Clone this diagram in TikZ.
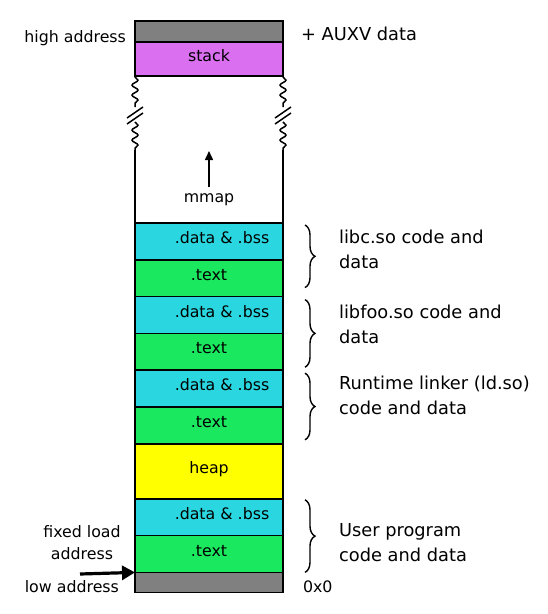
\documentclass[tikz,border=0pt]{standalone}
\usepackage{fontspec}
\setmainfont{DejaVu Sans}
\usetikzlibrary{arrows.meta,positioning,decorations.pathreplacing,decorations.pathmorphing}

\definecolor{segGray}{RGB}{128,128,128}
\definecolor{segStack}{RGB}{218,112,240}
\definecolor{segData}{RGB}{42,215,224}
\definecolor{segText}{RGB}{26,232,94}
\definecolor{segHeap}{RGB}{255,255,0}

\newcommand{\dlbl}{\hspace*{26pt}.data \& .bss}

\begin{document}
\begin{tikzpicture}[
    x = 1pt, y = -1pt, % pixel grid, y grows downwards
    node distance = 0pt, % segments touch
    line width = 1.5pt,
    font = \fontsize{15.8}{22}\selectfont
    ]

    \tikzset{seg/.style={
        draw = black,
        line width = 1.5pt,
        minimum width = 148pt,
        minimum height = 36.8pt,
        inner sep = 0pt,
        outer sep = 0pt,
        text height = 12pt,
        text depth = 8pt
        }}
    \tikzset{rlabel/.style={anchor=west, align=left, font=\fontsize{17.8}{25}\selectfont}}
    \tikzset{grp/.style={decorate, decoration={brace, amplitude=10pt}, line width=1.4pt}}
    \tikzset{wavy/.style={decorate, decoration={snake, amplitude=3pt, segment length=10pt}}}

    \useasboundingbox (0,0) rectangle (548,614);

    % top of the address space
    \node[seg, fill=segGray, minimum height=21pt] (auxv) at (209,31.5) {};
    \node[seg, fill=segStack, minimum height=34pt] (stack) [below=of auxv] {stack};

    % shared objects
    \node[seg, fill=segData] (libcdata) at (209,241.4) {\dlbl};
    \node[seg, fill=segText] (libctext) [below=of libcdata] {.text};
    \node[seg, fill=segData] (libfoodata) [below=of libctext] {\dlbl};
    \node[seg, fill=segText] (libfootext) [below=of libfoodata] {.text};
    \node[seg, fill=segData] (lddata) [below=of libfootext] {\dlbl};
    \node[seg, fill=segText] (ldtext) [below=of lddata] {.text};
    \node[seg, fill=segHeap, minimum height=55pt] (heap) [below=of ldtext] {heap};

    % user program
    \node[seg, fill=segData] (userdata) [below=of heap] {\dlbl};
    \node[seg, fill=segText] (usertext) [below=of userdata] {.text};
    \node[seg, fill=segGray, minimum height=19pt] (lowgray) [below=of usertext] {};

    % broken sides of the column
    \foreach \a/\b in {south west/north west, south east/north east} {
        \draw[wavy] ([shift={(0,1)}]stack.\a) -- ++(0,30);
        \draw ([shift={(-8,42)}]stack.\a) -- ++(16,-11);
        \draw ([shift={(-8,48)}]stack.\a) -- ++(16,-11);
        \draw[wavy] ([shift={(0,46)}]stack.\a) -- ++(0,28);
        \draw ([shift={(0,74)}]stack.\a) -- (libcdata.\b);
    }

    \node (mmap) at (209,200) {mmap};
    \coordinate (mmaptail) at (209,187);
    \coordinate (mmaptip) at (209,151);
    \draw[-{Triangle[length=9pt,width=8pt]}] (mmaptail) -- (mmaptip);

    % labels on the left
    \node[anchor=east] (high) at (130,38) {high address};
    \node[align=center] (fixed) at (82,543) {fixed load\\address};
    \node[anchor=east] (low) at (123,587) {low address};
    \coordinate (loadtail) at (80,574);
    \draw[line width=3.2pt, -{Triangle[length=13pt,width=14pt]}] (loadtail) -- (lowgray.north west);

    % labels on the right
    \node[anchor=west, font=\fontsize{17.8}{25}\selectfont] (auxvlbl) at (297,34) {+ AUXV data};
    \node[anchor=west] (zero) at (299,587) {0x0};

    \draw[grp] ([xshift=22pt, yshift=-2pt]libcdata.north east) -- ([xshift=22pt, yshift=9pt]libctext.south east);
    \draw[grp] ([xshift=22pt, yshift=-3pt]libfoodata.north east) -- ([xshift=22pt, yshift=3pt]libfootext.south east);
    \draw[grp] ([xshift=22pt, yshift=-3pt]lddata.north east) -- ([xshift=22pt, yshift=4pt]ldtext.south east);
    \draw[grp] ([xshift=22pt, yshift=-1pt]userdata.north east) -- ([xshift=22pt]usertext.south east);

    \node[rlabel] (libclbl) at (335,249) {libc.so code and\\data};
    \node[rlabel] (libfoolbl) at (335,324) {libfoo.so code and\\data};
    \node[rlabel] (ldlbl) at (335,395.5) {Runtime linker (ld.so)\\code and data};
    \node[rlabel] (userlbl) at (335,542.5) {User program\\code and data};
\end{tikzpicture}
\end{document}
